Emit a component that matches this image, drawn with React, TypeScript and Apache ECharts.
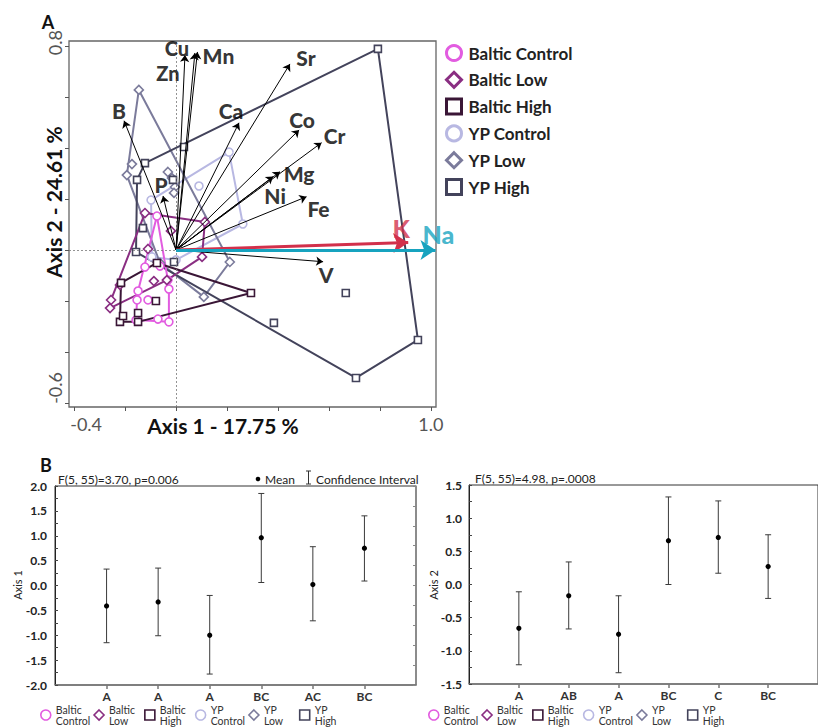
import React, { useEffect, useRef } from 'react';
import * as echarts from 'echarts';

const FONT = 'Lato, "Open Sans", sans-serif';

// ---------- Groups ----------
const groupNames = ['Baltic Control', 'Baltic Low', 'Baltic High', 'YP Control', 'YP Low', 'YP High'];
const groupColors = ['#E25CE0', '#8A2E82', '#3A1636', '#B8B8E2', '#7B7B9B', '#43435B'];
const groupSymbols = ['circle', 'diamond', 'rect', 'circle', 'diamond', 'rect'];
const groupSymbolSizes = [8, 9, 7, 8, 9, 7];

// ---------- PCA scores (Axis 1, Axis 2) ----------
const balticControl = [[-0.075, 0.133], [-0.122, -0.067], [-0.149, -0.161], [-0.153, -0.196], [-0.157, -0.275], [-0.110, -0.196], [-0.071, -0.271], [-0.028, -0.282], [-0.028, -0.153], [-0.032, -0.118], [-0.063, -0.063]];
const balticLow = [[-0.122, 0.145], [0.113, 0.110], [0.102, -0.027], [-0.020, 0.075], [-0.110, 0.004], [-0.087, -0.122], [-0.036, -0.118], [-0.220, -0.137], [-0.255, -0.196], [-0.259, -0.228]];
const balticHigh = [[-0.075, -0.051], [0.294, -0.169], [-0.216, -0.129], [-0.220, -0.282], [-0.149, -0.282], [-0.149, -0.247], [-0.079, -0.200], [-0.208, -0.259]];
const ypControl = [[0.208, 0.384], [0.262, 0.102], [0.000, -0.039], [-0.095, -0.027], [-0.098, 0.196], [0.090, 0.251]];
const ypLow = [[-0.146, 0.628], [0.211, -0.047], [0.109, -0.184], [-0.063, -0.051], [-0.193, 0.294], [-0.173, 0.337], [-0.032, 0.306], [-0.004, 0.247], [-0.008, 0.224], [-0.016, 0.282]];
const ypHigh = [[0.792, 0.789], [0.949, -0.353], [0.706, -0.502], [0.666, -0.169], [0.384, -0.286], [0.031, 0.404], [-0.122, 0.341], [-0.153, 0.275], [-0.157, -0.008], [-0.012, 0.275], [-0.130, 0.086], [-0.008, -0.047]];
const groupScores = [balticControl, balticLow, balticHigh, ypControl, ypLow, ypHigh];

// ---------- Loadings ----------
const elements = ['Cu', 'Zn', 'Mn', 'Sr', 'B', 'Ca', 'Co', 'Cr', 'Mg', 'Ni', 'Fe', 'P', 'V', 'K', 'Na'];
const loadX = [0.035, 0.074, 0.084, 0.447, -0.204, 0.247, 0.483, 0.571, 0.408, 0.381, 0.512, -0.051, 0.577, 0.911, 1.018];
const loadY = [0.765, 0.773, 0.777, 0.730, 0.507, 0.499, 0.471, 0.421, 0.307, 0.288, 0.209, 0.212, -0.046, 0.029, 0.0];

// PCA tick values / labels
const pcaXTicks = [-0.4, -0.2, 0, 0.2, 0.4, 0.6, 0.8, 1.0];
const pcaYTicks = [-0.6, -0.4, -0.2, 0, 0.2, 0.4, 0.6, 0.8];
const pcaXLabels = [-0.4, 1.0];
const pcaYLabels = [-0.6, 0.8];

// ---------- Panel B ----------
const catPos = [1, 2, 3, 4, 5, 6];
const letters1 = ['A', 'A', 'A', 'BC', 'AC', 'BC'];
const mean1 = [-0.41, -0.33, -1.0, 0.96, 0.02, 0.75];
const lo1 = [-1.15, -1.01, -1.78, 0.06, -0.71, 0.09];
const hi1 = [0.33, 0.35, -0.2, 1.85, 0.78, 1.40];
const letters2 = ['A', 'AB', 'A', 'BC', 'C', 'BC'];
const mean2 = [-0.66, -0.17, -0.75, 0.66, 0.71, 0.27];
const lo2 = [-1.21, -0.67, -1.33, 0.0, 0.17, -0.21];
const hi2 = [-0.11, 0.34, -0.17, 1.32, 1.26, 0.75];

// label styling (positions relative to arrow tips)
const labelStyle: Record<string, { off: number[]; size: number; color: string }> = {
  Cu: { off: [-8, -7], size: 20, color: '#000' },
  Zn: { off: [-27, 20], size: 20, color: '#000' },
  Mn: { off: [21, 4], size: 21, color: '#000' },
  Sr: { off: [16, -6], size: 21, color: '#000' },
  B: { off: [-5, -10], size: 21, color: '#000' },
  Ca: { off: [-8, -12], size: 21, color: '#000' },
  Co: { off: [3, -10], size: 21, color: '#000' },
  Cr: { off: [13, -7], size: 21, color: '#000' },
  Mg: { off: [19, 2], size: 21, color: '#000' },
  Ni: { off: [2, 19], size: 21, color: '#000' },
  Fe: { off: [12, 12], size: 21, color: '#000' },
  P: { off: [-2, -11], size: 21, color: '#000' },
  V: { off: [3, 13], size: 21, color: '#000' },
  K: { off: [-7, -15], size: 25, color: '#D2304B' },
  Na: { off: [3, -16], size: 25, color: '#17A3BF' },
};

function convexHull(pts: number[][]) {
  const p = pts.slice().sort((a, b) => a[0] - b[0] || a[1] - b[1]);
  const cross = (o: number[], a: number[], b: number[]) => (a[0] - o[0]) * (b[1] - o[1]) - (a[1] - o[1]) * (b[0] - o[0]);
  const lower: number[][] = [];
  for (const q of p) {
    while (lower.length >= 2 && cross(lower[lower.length - 2], lower[lower.length - 1], q) <= 0) lower.pop();
    lower.push(q);
  }
  const upper: number[][] = [];
  for (let i = p.length - 1; i >= 0; i--) {
    const q = p[i];
    while (upper.length >= 2 && cross(upper[upper.length - 2], upper[upper.length - 1], q) <= 0) upper.pop();
    upper.push(q);
  }
  upper.pop();
  lower.pop();
  const h = lower.concat(upper);
  h.push(h[0]);
  return h;
}

function errorBarSeries(name: string, xi: number, yi: number, means: number[], los: number[], his: number[]) {
  return {
    type: 'custom',
    name,
    xAxisIndex: xi,
    yAxisIndex: yi,
    silent: true,
    clip: false,
    data: catPos.map((c, i) => [c, means[i], los[i], his[i]]),
    encode: { x: 0, y: [1, 2, 3] },
    renderItem: (params: any, api: any) => {
      const x = api.value(0);
      const pm = api.coord([x, api.value(1)]);
      const pl = api.coord([x, api.value(2)]);
      const ph = api.coord([x, api.value(3)]);
      const c = 3;
      const st = { stroke: '#3a3a3a', lineWidth: 1 };
      return {
        type: 'group',
        children: [
          { type: 'line', shape: { x1: ph[0], y1: ph[1], x2: pl[0], y2: pl[1] }, style: st },
          { type: 'line', shape: { x1: ph[0] - c, y1: ph[1], x2: ph[0] + c, y2: ph[1] }, style: st },
          { type: 'line', shape: { x1: pl[0] - c, y1: pl[1], x2: pl[0] + c, y2: pl[1] }, style: st },
          { type: 'circle', shape: { cx: pm[0], cy: pm[1], r: 2.6 }, style: { fill: '#000' } },
        ],
      };
    },
  };
}

export default function App() {
  const ref = useRef<HTMLDivElement>(null);
  useEffect(() => {
    if (!ref.current) return;
    const chart = echarts.init(ref.current, undefined, { renderer: 'svg' });

    const hullSeries = groupNames.map((g, i) => ({
      type: 'line',
      name: g + ' hull',
      xAxisIndex: 0,
      yAxisIndex: 0,
      data: convexHull(groupScores[i]),
      symbol: 'none',
      lineStyle: { color: groupColors[i], width: 2 },
      silent: true,
      z: 2,
      clip: false,
    }));
    const scatterSeries = groupNames.map((g, i) => ({
      type: 'scatter',
      name: g,
      xAxisIndex: 0,
      yAxisIndex: 0,
      data: groupScores[i],
      symbol: groupSymbols[i],
      symbolSize: groupSymbolSizes[i],
      itemStyle: { color: '#ffffff', borderColor: groupColors[i], borderWidth: 1.6, opacity: 1 },
      z: 3,
      silent: true,
    }));

    const blackIdx = elements.map((_, i) => i).filter((i) => elements[i] !== 'K' && elements[i] !== 'Na');
    const kIdx = elements.indexOf('K');
    const naIdx = elements.indexOf('Na');

    const bottomLegend = (left: number) => ({
      orient: 'horizontal', left, top: 704, padding: 0, itemWidth: 10, itemHeight: 10, itemGap: 3,
      selectedMode: false, data: groupNames,
      itemStyle: { borderWidth: 1.6, color: '#fff' },
      formatter: (n: string) => n.replace(' ', '\n'),
      textStyle: { fontFamily: FONT, fontSize: 10.5, color: '#333', lineHeight: 11, width: 32, overflow: 'none' },
    });

    const option: any = {
      animation: false,
      textStyle: { fontFamily: FONT },
      grid: [
        { left: 69, top: 41, width: 367, height: 366, show: true, borderColor: '#666', borderWidth: 1.3, backgroundColor: 'transparent' },
        { left: 55, top: 486, width: 361, height: 199, show: true, borderColor: '#333', borderWidth: 1 },
        { left: 469, top: 485, width: 360, height: 199, show: true, borderColor: '#333', borderWidth: 1 },
      ],
      xAxis: [
        {
          gridIndex: 0, type: 'value', min: -0.42, max: 1.02,
          axisLine: { show: false, onZero: false },
          splitLine: { show: false },
          axisTick: { show: true, customValues: pcaXTicks, length: 4, lineStyle: { color: '#555' } },
          axisLabel: {
            show: true, customValues: pcaXLabels, margin: 8, color: '#555', fontSize: 18, fontFamily: FONT,
            formatter: (v: number) => (v < 0 ? '{l|' + v.toFixed(1) + '}' : '{n|' + v.toFixed(1) + '}'),
            rich: { l: { padding: [0, 0, 0, 24], fontSize: 18, color: '#555', fontFamily: FONT }, n: { fontSize: 18, color: '#555', fontFamily: FONT } },
          },
        },
        {
          gridIndex: 1, type: 'value', min: 0, max: 7,
          axisLine: { show: true, onZero: false, lineStyle: { color: '#777', width: 1.5 } },
          splitLine: { show: false },
          axisTick: { show: true, customValues: catPos, length: 4, lineStyle: { color: '#777', width: 1.5 } },
          axisLabel: { show: true, customValues: catPos, margin: 5, color: '#333', fontSize: 12, fontWeight: 'bold', formatter: (v: number) => letters1[Math.round(v) - 1] },
        },
        {
          gridIndex: 2, type: 'value', min: 0, max: 7,
          axisLine: { show: true, onZero: false, lineStyle: { color: '#777', width: 1.5 } },
          splitLine: { show: false },
          axisTick: { show: true, customValues: catPos, length: 4, lineStyle: { color: '#777', width: 1.5 } },
          axisLabel: { show: true, customValues: catPos, margin: 5, color: '#333', fontSize: 12, fontWeight: 'bold', formatter: (v: number) => letters2[Math.round(v) - 1] },
        },
      ],
      yAxis: [
        {
          gridIndex: 0, type: 'value', min: -0.616, max: 0.82,
          axisLine: { show: false, onZero: false },
          splitLine: { show: false },
          axisTick: { show: true, customValues: pcaYTicks, length: 4, lineStyle: { color: '#555' } },
          axisLabel: {
            show: true, customValues: pcaYLabels, rotate: 90, margin: 5, color: '#555', fontSize: 18,
            formatter: (v: number) => (v < 0 ? '{a|' + v.toFixed(1) + '}' : '{b|' + v.toFixed(1) + '}'),
            rich: { a: { padding: [0, 0, 0, 30], fontSize: 18, color: '#555', fontFamily: FONT }, b: { padding: [0, 0, 0, 7], fontSize: 18, color: '#555', fontFamily: FONT } },
          },
        },
        {
          gridIndex: 1, type: 'value', min: -2, max: 2, interval: 0.5,
          axisLine: { show: true, onZero: false, lineStyle: { color: '#222' } },
          splitLine: { show: false },
          axisTick: { show: true, inside: true, length: 3, lineStyle: { color: '#444' } },
          minorTick: { show: true, splitNumber: 2, length: 3, lineStyle: { color: '#444' } },
          axisLabel: { margin: 8, color: '#222', fontSize: 12, fontWeight: 'bold', formatter: (v: number) => v.toFixed(1) },
        },
        {
          gridIndex: 1, type: 'value', position: 'right', min: -2, max: 2, interval: 0.4,
          axisLine: { show: true, onZero: false, lineStyle: { color: '#888', width: 1.5 } },
          splitLine: { show: false },
          axisTick: { show: true, inside: true, length: 3, lineStyle: { color: '#888' } },
          axisLabel: { show: false },
        },
        {
          gridIndex: 2, type: 'value', min: -1.5, max: 1.5, interval: 0.5,
          axisLine: { show: true, onZero: false, lineStyle: { color: '#222' } },
          splitLine: { show: false },
          axisTick: { show: true, inside: true, length: 3, lineStyle: { color: '#444' } },
          minorTick: { show: true, splitNumber: 2, length: 3, lineStyle: { color: '#444' } },
          axisLabel: { margin: 7, color: '#222', fontSize: 12, fontWeight: 'bold', formatter: (v: number) => v.toFixed(1) },
        },
      ],
      legend: [
        {
          orient: 'vertical', left: 445, top: 44, padding: 0, itemWidth: 15, itemHeight: 15, itemGap: 8.8,
          selectedMode: false, data: groupNames,
          itemStyle: { borderWidth: 3, color: '#fff' },
          textStyle: { fontFamily: FONT, fontSize: 17, fontWeight: 'bold', color: '#222', lineHeight: 17, padding: [0, 0, 0, 2] },
        },
        bottomLegend(40),
        bottomLegend(428),
      ],
      series: [
        {
          type: 'line', name: 'ref', xAxisIndex: 0, yAxisIndex: 0, data: [], silent: true, z: 1,
          markLine: {
            symbol: 'none', silent: true, label: { show: false },
            lineStyle: { type: [2, 2], color: '#777', width: 0.8 },
            data: [{ xAxis: 0 }, { yAxis: 0 }],
          },
        },
        ...[3, 4, 5, 0, 1, 2].map((i) => hullSeries[i]),
        ...[3, 4, 5, 0, 1, 2].map((i) => scatterSeries[i]),
        {
          type: 'lines', coordinateSystem: 'cartesian2d', xAxisIndex: 0, yAxisIndex: 0, silent: true, z: 5, clip: false,
          symbol: ['none', 'arrow'], symbolSize: 7,
          lineStyle: { color: '#000', width: 1, opacity: 1 },
          data: blackIdx.map((i) => ({ coords: [[0, 0], [loadX[i], loadY[i]]] })),
        },
        {
          type: 'lines', coordinateSystem: 'cartesian2d', xAxisIndex: 0, yAxisIndex: 0, silent: true, z: 6, clip: false,
          symbol: ['none', 'arrow'], symbolSize: 15,
          lineStyle: { color: '#D2304B', width: 3, opacity: 1 },
          data: [{ coords: [[0, 0], [loadX[kIdx], loadY[kIdx]]] }],
        },
        {
          type: 'lines', coordinateSystem: 'cartesian2d', xAxisIndex: 0, yAxisIndex: 0, silent: true, z: 7, clip: false,
          symbol: ['none', 'arrow'], symbolSize: 15,
          lineStyle: { color: '#17A3BF', width: 3, opacity: 1 },
          data: [{ coords: [[0, 0], [loadX[naIdx], loadY[naIdx]]] }],
        },
        {
          type: 'scatter', name: 'loading labels', xAxisIndex: 0, yAxisIndex: 0, silent: true, z: 8, clip: false,
          symbolSize: 1, itemStyle: { color: 'rgba(0,0,0,0)' },
          data: elements.map((el, i) => ({
            value: [loadX[i], loadY[i]],
            name: el,
            label: {
              show: true, position: 'inside', formatter: el, offset: labelStyle[el].off,
              color: labelStyle[el].color, fontSize: labelStyle[el].size, fontWeight: 900, fontFamily: FONT,
            },
          })),
        },
        errorBarSeries('Axis 1 CI', 1, 1, mean1, lo1, hi1),
        errorBarSeries('Axis 2 CI', 2, 3, mean2, lo2, hi2),
      ],
      graphic: [
        { type: 'text', x: 48, y: 22, style: { text: 'A', fontSize: 18, fontWeight: 'bold', fontFamily: FONT, fill: '#111', align: 'center', verticalAlign: 'middle' } },
        { type: 'text', x: 46, y: 465, style: { text: 'B', fontSize: 18, fontWeight: 'bold', fontFamily: FONT, fill: '#111', align: 'center', verticalAlign: 'middle' } },
        { type: 'text', x: 223, y: 425, style: { text: 'Axis 1 - 17.75 %', fontSize: 21, fontWeight: 'bold', fontFamily: FONT, fill: '#111', align: 'center', verticalAlign: 'middle' } },
        { type: 'text', x: 53, y: 202, rotation: Math.PI / 2, style: { text: 'Axis 2 - 24.61 %', fontSize: 21, fontWeight: 'bold', fontFamily: FONT, fill: '#111', align: 'center', verticalAlign: 'middle' } },
        { type: 'text', x: 58, y: 479, style: { text: 'F(5, 55)=3.70, p=0.006', fontSize: 12, fontFamily: FONT, fill: '#222', align: 'left', verticalAlign: 'middle' } },
        { type: 'text', x: 475, y: 478, style: { text: 'F(5, 55)=4.98, p=.0008', fontSize: 12, fontFamily: FONT, fill: '#222', align: 'left', verticalAlign: 'middle' } },
        { type: 'circle', shape: { cx: 258, cy: 479, r: 2.3 }, style: { fill: '#000' } },
        { type: 'text', x: 265, y: 479, style: { text: 'Mean', fontSize: 12, fontFamily: FONT, fill: '#222', align: 'left', verticalAlign: 'middle' } },
        { type: 'line', shape: { x1: 308.5, y1: 471, x2: 308.5, y2: 484 }, style: { stroke: '#333', lineWidth: 1 } },
        { type: 'line', shape: { x1: 306, y1: 471, x2: 311, y2: 471 }, style: { stroke: '#333', lineWidth: 1 } },
        { type: 'line', shape: { x1: 306, y1: 484, x2: 311, y2: 484 }, style: { stroke: '#333', lineWidth: 1 } },
        { type: 'text', x: 316, y: 479, style: { text: 'Confidence Interval', fontSize: 12, fontFamily: FONT, fill: '#222', align: 'left', verticalAlign: 'middle' } },
        { type: 'text', x: 17, y: 585, rotation: Math.PI / 2, style: { text: 'Axis 1', fontSize: 11, fontFamily: FONT, fill: '#222', align: 'center', verticalAlign: 'middle' } },
        { type: 'text', x: 433, y: 585, rotation: Math.PI / 2, style: { text: 'Axis 2', fontSize: 11, fontFamily: FONT, fill: '#222', align: 'center', verticalAlign: 'middle' } },
      ],
    };
    chart.setOption(option);
    return () => chart.dispose();
  }, []);
  return <div ref={ref} style={{ position: 'fixed', left: 0, top: 0, width: 818, height: 727, background: '#fff' }} />;
}
